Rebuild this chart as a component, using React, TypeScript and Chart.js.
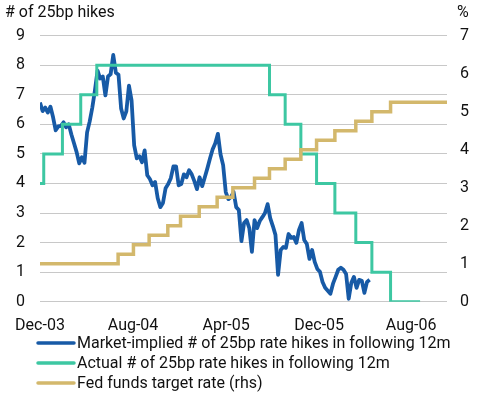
import React, { useEffect, useRef } from "react";
import { Chart, registerables } from "chart.js";

Chart.register(...registerables);

// ---- Data ----
const tickDates = ["2003-12-04", "2004-08-09", "2005-04-15", "2005-12-20", "2006-08-23"];
const tickLabels = ["Dec-03", "Aug-04", "Apr-05", "Dec-05", "Aug-06"];
const axisStartDate = "2003-12-04";
const axisEndDate = "2006-11-27";

// Market-implied # of 25bp hikes in following 12m (weekly readings from 4 Dec 2003)
const marketStartDate = "2003-12-04";
const marketStepDays = 7;
const marketImplied = [
  6.74, 6.45, 6.57, 6.4, 6.6, 6.24, 5.8, 5.93, 5.95, 6.07, 5.9, 6.0, 5.66, 5.36, 5.06, 4.68,
  4.89, 4.7, 5.73, 6.1, 6.57, 7.15, 7.82, 7.55, 7.62, 6.98, 7.62, 7.7, 8.35, 7.75, 7.68, 6.54,
  6.2, 6.44, 7.31, 6.81, 5.29, 4.85, 4.92, 4.72, 5.12, 4.28, 4.15, 3.94, 4.05, 3.5, 3.2, 3.34,
  3.84, 3.98, 4.18, 4.58, 4.58, 3.94, 3.98, 4.31, 4.21, 4.45, 4.31, 4.08, 3.81, 4.21, 3.91, 4.21,
  4.52, 4.85, 5.16, 5.36, 5.68, 4.99, 4.62, 3.71, 3.47, 3.54, 3.71, 3.2, 3.1, 2.05, 2.66, 2.76,
  2.49, 1.69, 2.76, 2.49, 2.73, 2.86, 3.0, 3.3, 2.83, 2.56, 2.26, 0.91, 1.75, 1.85, 1.82, 2.29,
  2.16, 2.19, 1.99, 2.43, 2.66, 2.09, 1.95, 1.45, 1.75, 1.35, 1.11, 1.01, 0.67, 0.47, 0.37, 0.27,
  0.61, 0.84, 1.08, 1.15, 1.08, 0.94, 0.1, 0.64, 0.84, 0.47, 0.74, 0.71, 0.3, 0.67, 0.74,
];

// Actual # of 25bp hikes in following 12m (value from each date onward)
const actualDates = [
  "2003-12-04", "2003-12-14", "2004-02-02", "2004-03-22", "2004-05-04", "2005-08-09",
  "2005-09-20", "2005-11-01", "2005-12-13", "2006-01-31", "2006-03-28", "2006-05-10",
  "2006-06-29", "2006-09-16",
];
const actualHikes = [4, 5, 6, 7, 8, 7, 6, 5, 4, 3, 2, 1, 0, 0];

// Fed funds target rate, % (value from each date onward)
const fedDates = [
  "2003-12-04", "2004-06-30", "2004-08-10", "2004-09-21", "2004-11-10", "2004-12-14",
  "2005-02-02", "2005-03-22", "2005-05-03", "2005-06-30", "2005-08-09", "2005-09-20",
  "2005-11-01", "2005-12-13", "2006-01-31", "2006-03-28", "2006-05-10", "2006-06-29",
  "2006-11-27",
];
const fedRate = [
  1.0, 1.25, 1.5, 1.75, 2.0, 2.25, 2.5, 2.75, 3.0, 3.25, 3.5, 3.75, 4.0, 4.25, 4.5, 4.75, 5.0,
  5.25, 5.25,
];

const legendLabels = [
  "Market-implied # of 25bp rate hikes in following 12m",
  "Actual # of 25bp rate hikes in following 12m",
  "Fed funds target rate (rhs)",
];

const BLUE = "#175AA6";
const TEAL = "#3DC7A2";
const GOLD = "#D3B86C";
const TEXT = "#111111";
const FONT = "Roboto";

function dayNum(s: string): number {
  const [y, m, d] = s.split("-").map(Number);
  return (Date.UTC(y, m - 1, d) - Date.UTC(2003, 11, 1)) / 86400000;
}

export default function App() {
  const ref = useRef<HTMLCanvasElement | null>(null);

  useEffect(() => {
    document.body.style.margin = "0";
    const canvas = ref.current;
    if (!canvas) return;

    const start = dayNum(marketStartDate);
    const marketPts = marketImplied.map((v, i) => ({ x: start + i * marketStepDays, y: v }));
    const actualPts = actualDates.map((d, i) => ({ x: dayNum(d), y: actualHikes[i] }));
    const fedPts = fedDates.map((d, i) => ({ x: dayNum(d), y: fedRate[i] }));
    const tickDays = tickDates.map(dayNum);
    const colors = [BLUE, TEAL, GOLD];

    const overlay = {
      id: "overlay",
      afterDraw(chart: any) {
        const ctx = chart.ctx;
        const xs = chart.scales.x;
        ctx.save();
        ctx.fillStyle = TEXT;
        ctx.font = `16px ${FONT}`;
        ctx.textBaseline = "middle";
        ctx.textAlign = "left";
        ctx.fillText("# of 25bp hikes", 5, 13);
        ctx.fillText("%", 457, 13);
        // x-axis labels
        ctx.textAlign = "center";
        tickDays.forEach((d, i) => {
          ctx.fillText(tickLabels[i], xs.getPixelForValue(d), chart.chartArea.bottom + 24);
        });
        // legend
        ctx.textAlign = "left";
        legendLabels.forEach((label, i) => {
          const y = 343 + i * 20;
          ctx.strokeStyle = colors[i];
          ctx.lineWidth = 3.5;
          ctx.lineCap = "round";
          ctx.beginPath();
          ctx.moveTo(38, y);
          ctx.lineTo(74, y);
          ctx.stroke();
          ctx.fillStyle = TEXT;
          ctx.fillText(label, 77, y + 1);
        });
        ctx.restore();
      },
    };

    const chart = new Chart(canvas, {
      type: "line",
      data: {
        datasets: [
          {
            label: legendLabels[0],
            data: marketPts,
            borderColor: BLUE,
            borderWidth: 3.8,
            pointRadius: 0,
            tension: 0,
            borderJoinStyle: "round",
            yAxisID: "y",
            order: 2,
          },
          {
            label: legendLabels[1],
            data: actualPts,
            borderColor: TEAL,
            borderWidth: 3,
            pointRadius: 0,
            stepped: true,
            yAxisID: "y",
            order: 1,
          },
          {
            label: legendLabels[2],
            data: fedPts,
            borderColor: GOLD,
            borderWidth: 3.5,
            pointRadius: 0,
            stepped: true,
            yAxisID: "y1",
            order: 0,
          },
        ],
      },
      options: {
        responsive: false,
        animation: false,
        layout: { padding: { top: 35.7, bottom: 61.3, left: 0, right: 0 } },
        plugins: {
          legend: { display: false },
          tooltip: { enabled: false },
          title: { display: false },
        },
        scales: {
          x: {
            type: "linear",
            min: dayNum(axisStartDate),
            max: dayNum(axisEndDate),
            grid: { display: false },
            border: { display: false },
            afterBuildTicks: (scale: any) => {
              scale.ticks = tickDays.map((v) => ({ value: v }));
            },
            afterFit: (scale: any) => {
              scale.height = 30;
            },
            ticks: { display: false },
          },
          y: {
            position: "left",
            min: 0,
            max: 9,
            grid: { color: "#C8C8C8", lineWidth: 1, drawTicks: false },
            border: { display: false },
            afterFit: (scale: any) => {
              scale.width = 40;
            },
            ticks: {
              stepSize: 1,
              padding: 15,
              color: TEXT,
              font: { family: FONT, size: 16 },
            },
          },
          y1: {
            position: "right",
            min: 0,
            max: 7,
            grid: { display: false, drawTicks: false },
            border: { display: false },
            afterFit: (scale: any) => {
              scale.width = 35;
            },
            ticks: {
              stepSize: 1,
              padding: 13,
              color: TEXT,
              font: { family: FONT, size: 16 },
            },
          },
        },
      },
      plugins: [overlay],
    } as any);

    return () => chart.destroy();
  }, []);

  return (
    <div style={{ position: "absolute", left: 0, top: 0, width: 482, height: 393 }}>
      <canvas ref={ref} width={482} height={393} style={{ width: 482, height: 393 }} />
    </div>
  );
}
